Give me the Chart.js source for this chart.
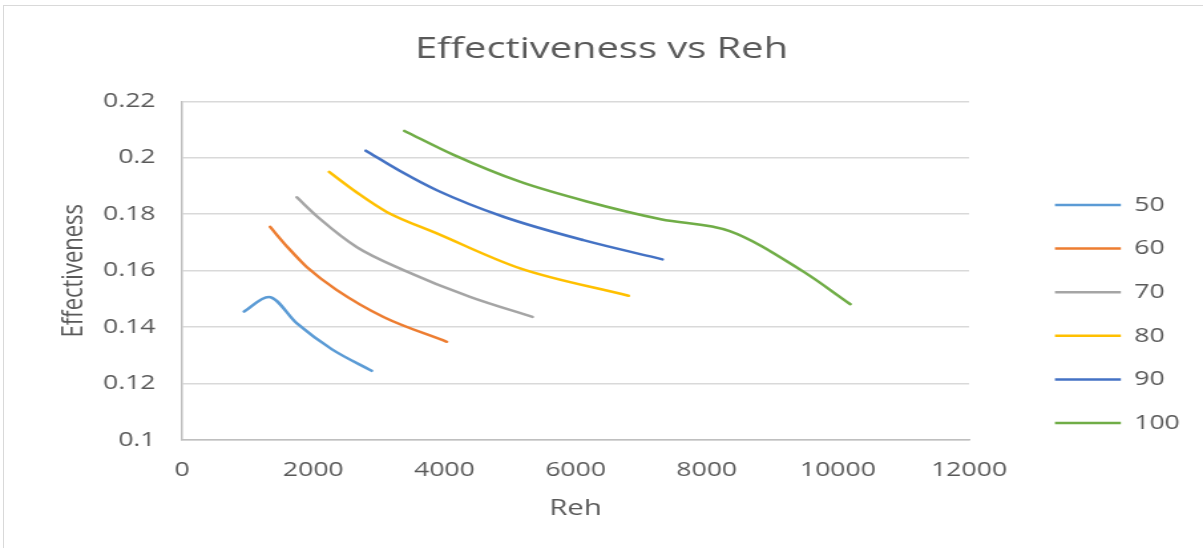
<!DOCTYPE html>
<html>
<head>
<meta charset="utf-8">
<script src="https://cdn.jsdelivr.net/npm/chart.js@4.4.1/dist/chart.umd.min.js"></script>
<style>
  html, body { margin: 0; padding: 0; background: #ffffff; }
  #page { position: relative; width: 1203px; height: 548px; overflow: hidden; background: #ffffff; }
  #frame { position: absolute; left: 3px; top: 5px; right: -10px; bottom: -10px; border: 1px solid #d9d9d9; }
  /* the plot is laid out on a 905px wide stage and widened to the full page */
  #stage { position: absolute; left: 0; top: 0; width: 905px; height: 548px; transform: scaleX(1.3293); transform-origin: 0 0; }
</style>
</head>
<body>
<div id="page">
  <div id="frame"></div>
  <div id="stage"><canvas id="chart"></canvas></div>
</div>
<script>
// Reh values and effectiveness for each series
const seriesNames = ['50', '60', '70', '80', '90', '100'];

const reh50 = [945, 1320, 1750, 2280, 2890];
const eff50 = [0.1455, 0.1507, 0.1413, 0.1322, 0.1245];

const reh60 = [1342, 1620, 1900, 2360, 3070, 4036];
const eff60 = [0.1755, 0.1680, 0.1613, 0.1531, 0.1436, 0.1348];

const reh70 = [1749, 2104, 2660, 3375, 4390, 5342];
const eff70 = [0.1860, 0.1783, 0.1684, 0.1602, 0.1507, 0.1436];

const reh80 = [2242, 2664, 3120, 3884, 5154, 6806];
const eff80 = [0.1950, 0.1877, 0.1808, 0.1732, 0.1608, 0.1511];

const reh90 = [2801, 3324, 3884, 4900, 6119, 7324];
const eff90 = [0.2025, 0.1953, 0.1885, 0.1791, 0.1708, 0.1640];

const reh100 = [3390, 4140, 5150, 6170, 7300, 8350, 9450, 10190];
const eff100 = [0.2095, 0.2010, 0.1915, 0.1845, 0.1782, 0.1740, 0.1600, 0.1481];

const xTickLabels = ['0', '2000', '4000', '6000', '8000', '10000', '12000'];
const yTickLabels = ['0.1', '0.12', '0.14', '0.16', '0.18', '0.2', '0.22'];

const seriesColors = ['#5B9BD5', '#ED7D31', '#A5A5A5', '#FFC000', '#4472C4', '#70AD47'];

const rehSets = [reh50, reh60, reh70, reh80, reh90, reh100];
const effSets = [eff50, eff60, eff70, eff80, eff90, eff100];

const TEXT = '#595959';
const FONT = "'Open Sans', 'Liberation Sans', sans-serif";

const datasets = seriesNames.map((name, i) => ({
  label: name,
  data: rehSets[i].map((x, j) => ({ x: x, y: effSets[i][j] })),
  borderColor: seriesColors[i],
  backgroundColor: seriesColors[i],
  borderWidth: 2.5,
  borderCapStyle: 'round',
  borderJoinStyle: 'round',
  pointRadius: 0,
  pointHoverRadius: 0,
  cubicInterpolationMode: 'monotone',
  fill: false
}));

// legend column sits to the right of the plot
const placeLegend = {
  id: 'placeLegend',
  afterLayout(chart) {
    const lg = chart.legend;
    if (!lg) return;
    const w = lg.width, h = lg.height;
    lg.left = 770; lg.right = lg.left + w;
    lg.top = 171.4; lg.bottom = lg.top + h;
  }
};

new Chart(document.getElementById('chart'), {
  type: 'line',
  data: { datasets },
  plugins: [placeLegend],
  options: {
    responsive: true,
    maintainAspectRatio: false,
    animation: false,
    devicePixelRatio: 1,
    layout: { padding: 0 },
    plugins: {
      title: {
        display: true,
        text: 'Effectiveness vs Reh',
        color: TEXT,
        font: { family: FONT, size: 30, weight: 'normal' },
        padding: { top: 31, bottom: 34.3 }
      },
      legend: {
        position: 'chartArea',
        align: 'start',
        labels: {
          color: TEXT,
          font: { family: FONT, size: 20 },
          usePointStyle: true,
          pointStyle: 'line',
          pointStyleWidth: 49.6,
          boxWidth: 49.6,
          padding: 23.6
        }
      },
      tooltip: { enabled: false }
    },
    scales: {
      x: {
        type: 'linear',
        min: 0,
        max: 12000,
        afterFit(scale) { scale.height = 108; },
        ticks: {
          stepSize: 2000,
          color: TEXT,
          font: { family: FONT, size: 20 },
          padding: 18,
          maxRotation: 0,
          callback: (v) => xTickLabels[Math.round(v / 2000)]
        },
        grid: { display: false, drawTicks: false },
        border: { display: true, color: '#bfbfbf', width: 1.5 },
        title: {
          display: true,
          text: 'Reh',
          color: TEXT,
          font: { family: FONT, size: 22 },
          padding: { top: 0, bottom: 26 }
        }
      },
      y: {
        min: 0.1,
        max: 0.22,
        afterFit(scale) { scale.width = 137; },
        ticks: {
          stepSize: 0.02,
          color: TEXT,
          font: { family: FONT, size: 20 },
          padding: 20,
          callback: (v) => yTickLabels[Math.round((v - 0.1) / 0.02)]
        },
        grid: { color: '#d9d9d9', lineWidth: 1.5, drawTicks: false },
        border: { display: true, color: '#bfbfbf', width: 1.5 },
        title: {
          display: true,
          text: 'Effectiveness',
          color: TEXT,
          font: { family: FONT, size: 22 },
          padding: { top: 43, bottom: 0 }
        }
      },
      // empty right-hand band that holds the space used by the legend
      legendSpace: {
        type: 'linear',
        position: 'right',
        afterFit(scale) { scale.width = 176; },
        ticks: { display: false },
        grid: { display: false, drawTicks: false },
        border: { display: false },
        title: { display: false }
      }
    }
  }
});
</script>
</body>
</html>
